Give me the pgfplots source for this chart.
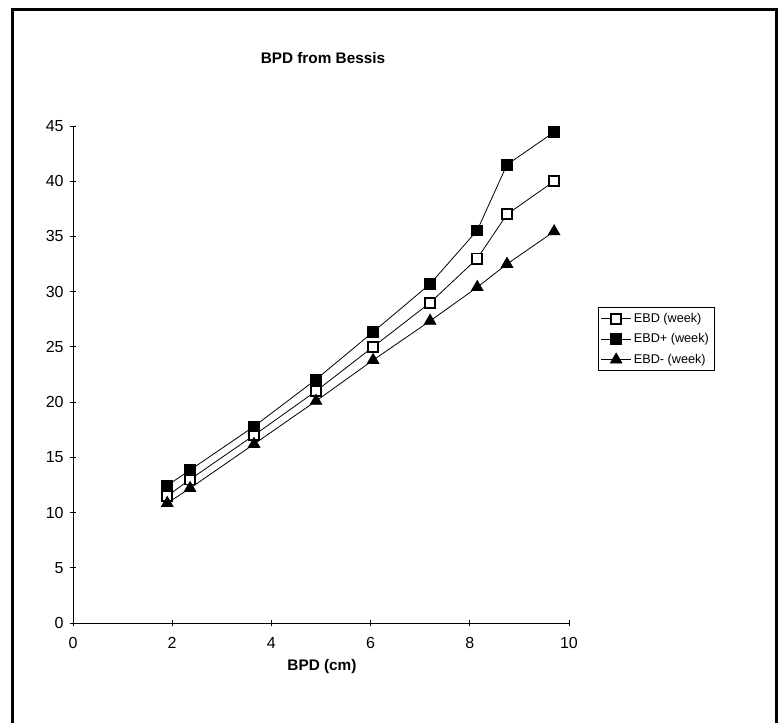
\documentclass[border=0pt]{standalone}
\usepackage{pgfplots}
\pgfplotsset{compat=1.18}
\usepackage{fontspec}
\setmainfont{Liberation Sans}
\begin{document}
\begin{tikzpicture}[x=1pt,y=1pt]
\useasboundingbox (0,0) rectangle (584.25,541.5);
\fill[white] (0,0) rectangle (584.25,541.5);
\draw[line width=2.25pt] (9,-3) -- (9,534) -- (582,534) -- (582,-3);
\begin{axis}[
  at={(54.75pt,74.25pt)}, anchor=south west,
  scale only axis, width=372pt, height=372.75pt,
  xmin=0, xmax=10, ymin=0, ymax=45,
  xtick={0,2,4,6,8,10}, ytick={0,5,...,45},
  axis x line*=bottom, axis y line*=left,
  tick align=center, major tick length=5pt,
  axis line style={line width=0.6pt},
  every tick/.style={black, line width=0.6pt},
  /pgf/number format/assume math mode=true,
  tick label style={font=\fontsize{12}{14}\selectfont},
  xticklabel style={yshift=-5pt},
  yticklabel style={xshift=-1pt},
  title={BPD from Bessis},
  title style={font=\bfseries\fontsize{11.5}{13}\selectfont, at={(rel axis cs:0.504,1.12)}, anchor=center},
  xlabel={BPD (cm)},
  xlabel style={font=\bfseries\fontsize{11.5}{13}\selectfont, at={(rel axis cs:0.502,-0.088)}, anchor=center},
  legend style={at={(1.0585,0.635)}, anchor=north west, draw=black, line width=0.6pt,
    font=\fontsize{9.5}{11}\selectfont, cells={anchor=west}, row sep=3pt, inner sep=2pt},
  legend image code/.code={\draw[#1, mark repeat=2, mark phase=2] plot coordinates {(0pt,0pt) (11pt,0pt) (22pt,0pt)};},
]
\addplot[black, line width=0.6pt, mark=square*, mark size=3.8pt, mark options={fill=white, line width=1.4pt}]
coordinates {(1.9,11.5) (2.36,13) (3.65,17) (4.9,21) (6.05,25) (7.2,29) (8.15,33) (8.75,37) (9.7,40)};
\addlegendentry{EBD (week)}
\addplot[black, line width=0.6pt, mark=square*, mark size=4.1pt, mark options={fill=black, solid}]
coordinates {(1.9,12.45) (2.36,13.85) (3.65,17.8) (4.9,22.05) (6.05,26.35) (7.2,30.7) (8.15,35.55) (8.75,41.5) (9.7,44.45)};
\addlegendentry{EBD+ (week)}
\addplot[black, line width=0.6pt, mark=triangle*, mark size=5pt, mark options={fill=black, solid}]
coordinates {(1.9,10.85) (2.36,12.2) (3.65,16.2) (4.9,20.1) (6.05,23.8) (7.2,27.35) (8.15,30.4) (8.75,32.5) (9.7,35.45)};
\addlegendentry{EBD- (week)}
\end{axis}
\end{tikzpicture}
\end{document}
